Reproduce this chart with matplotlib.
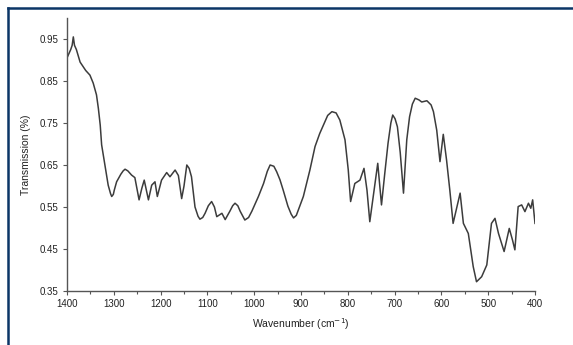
import matplotlib
matplotlib.use("Agg")
import matplotlib.pyplot as plt
from matplotlib.lines import Line2D
from matplotlib.ticker import MultipleLocator, FormatStrFormatter

plt.rcParams['font.family'] = ['Liberation Sans', 'DejaVu Sans']

wavenumber = [1400, 1396, 1392, 1389, 1386.5, 1384, 1380, 1372, 1360, 1351, 1344, 1337, 1333,
              1329, 1326, 1319, 1312, 1307, 1304.5, 1301, 1299, 1294, 1285, 1280, 1276, 1270, 1262, 1255, 1246,
              1240, 1235, 1226, 1219, 1212, 1207, 1198, 1187, 1180, 1169, 1162, 1155, 1150,
              1144, 1139, 1134, 1126.5, 1120, 1116, 1110, 1105, 1098, 1091, 1085, 1080, 1069, 1062, 1052, 1046, 1041, 1035, 1030, 1020,
              1012, 1005, 991, 980, 972, 966, 958, 952, 945, 938, 928, 921, 916, 910, 905, 895, 881, 870, 860, 850, 843, 834, 825, 817, 806,
              799, 794, 785, 774, 765.4, 759, 753, 745, 736, 728, 721, 714, 708, 704, 699, 694, 688, 681,
              674, 668, 662, 656, 648, 642, 631, 622, 617, 610, 603, 596, 589, 582, 575, 567, 560, 553, 542.5,
              532, 525, 514, 503, 493, 485.5, 478, 466, 455, 448, 443, 436, 428.5, 421.5, 414,
              409, 405, 400]
transmission = [0.905, 0.915, 0.925, 0.935, 0.955, 0.935, 0.925, 0.895, 0.875, 0.864, 0.845, 0.817, 0.785,
                0.745, 0.698, 0.65, 0.602, 0.582, 0.575, 0.58, 0.59, 0.61, 0.628, 0.636, 0.64, 0.636, 0.626, 0.62, 0.567,
                0.595, 0.614, 0.567, 0.602, 0.61, 0.575, 0.614, 0.632, 0.622, 0.638, 0.625, 0.57, 0.6,
                0.65, 0.642, 0.622, 0.55, 0.528, 0.521, 0.525, 0.535, 0.553, 0.563, 0.55, 0.527, 0.535, 0.52, 0.54, 0.553, 0.559, 0.553, 0.54, 0.519,
                0.525, 0.54, 0.575, 0.606, 0.635, 0.65, 0.647, 0.634, 0.615, 0.59, 0.552, 0.533, 0.524, 0.53, 0.545, 0.575, 0.638, 0.694, 0.725, 0.75, 0.768, 0.777, 0.774, 0.757, 0.71,
                0.638, 0.563, 0.606, 0.614, 0.642, 0.59, 0.515, 0.58, 0.654, 0.555, 0.63, 0.702, 0.75, 0.769, 0.76, 0.741, 0.68, 0.583,
                0.71, 0.765, 0.795, 0.809, 0.805, 0.80, 0.803, 0.793, 0.777, 0.733, 0.658, 0.723, 0.662, 0.59, 0.511, 0.55, 0.583, 0.511, 0.487,
                0.408, 0.372, 0.384, 0.412, 0.511, 0.523, 0.487, 0.444, 0.499, 0.471, 0.448, 0.551, 0.555, 0.539, 0.559,
                0.547, 0.567, 0.511]

xticks = [1400, 1300, 1200, 1100, 1000, 900, 800, 700, 600, 500, 400]
yticks = [0.35, 0.45, 0.55, 0.65, 0.75, 0.85, 0.95]

fig = plt.figure(figsize=(5.73, 3.45), dpi=100)
ax = fig.add_axes([67/573, 1 - 291/345, (535 - 67)/573, (291 - 18)/345])

ax.plot(wavenumber, transmission, color='#3c3c3c', linewidth=1.1, solid_joinstyle='round')

ax.set_xlim(1400, 400)
ax.set_ylim(0.35, 1.0)
ax.set_xticks(xticks)
ax.set_xticklabels([str(t) for t in xticks])
ax.xaxis.set_minor_locator(MultipleLocator(50))
ax.set_yticks(yticks)
ax.yaxis.set_major_formatter(FormatStrFormatter('%.2f'))

for s in ['top', 'right']:
    ax.spines[s].set_visible(False)
for s in ['left', 'bottom']:
    ax.spines[s].set_color('#555555')
    ax.spines[s].set_linewidth(1.0)

ax.tick_params(axis='both', which='major', direction='out', length=3, width=0.8,
               colors='#555555', labelcolor='#222222', labelsize=7, pad=3)
ax.tick_params(axis='x', which='minor', direction='out', length=2.5, width=0.8, colors='#555555')

ax.set_xlabel('Wavenumber (cm$^{-1}$)', fontsize=7.5, color='#222222', labelpad=5)
ax.set_ylabel('Transmission (%)', fontsize=7.5, color='#222222', labelpad=6)

# outer frame (top and left visible)
border_color = '#0b3566'
fig.add_artist(Line2D([8/573, 1.0], [1 - 8/345, 1 - 8/345], transform=fig.transFigure,
                      color=border_color, linewidth=1.8))
fig.add_artist(Line2D([8/573, 8/573], [0.0, 1 - 8/345], transform=fig.transFigure,
                      color=border_color, linewidth=1.8))

fig.savefig('out.png', dpi=100, facecolor='white')
